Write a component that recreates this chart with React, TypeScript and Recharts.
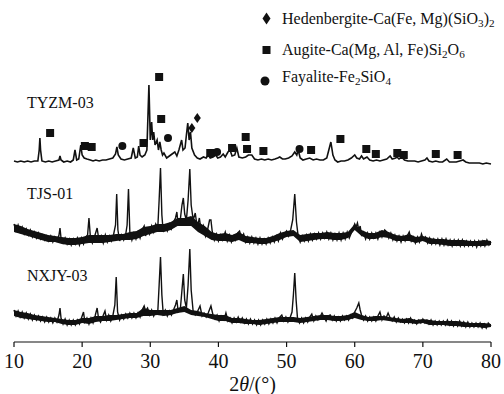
import { Area, ComposedChart, Line, Scatter, XAxis, YAxis } from 'recharts'

const SERIF = "'Liberation Serif', 'Times New Roman', serif"

const TWO_THETA_TICKS = [10, 20, 30, 40, 50, 60, 70, 80]

// [2θ, relative intensity]
const TYZM_03: [number, number][] = [
  [10.0, 5], [10.5, 4], [11.0, 5], [11.5, 4], [12.0, 5], [12.5, 4], [13.0, 5], [13.5, 5],
  [13.7, 16], [13.8, 28], [13.9, 16], [14.1, 5], [14.6, 4], [15.1, 5], [15.6, 4], [16.1, 5],
  [16.6, 6], [16.75, 10], [16.9, 6], [17.3, 4], [17.8, 5], [18.3, 4], [18.7, 6], [18.95, 16],
  [19.2, 6], [19.5, 7], [19.8, 21], [20.0, 11], [20.3, 8], [20.7, 7], [21.2, 6], [21.6, 5],
  [22.0, 6], [22.5, 5], [23.0, 6], [23.5, 6], [24.0, 7], [24.5, 8], [24.9, 12], [25.1, 19],
  [25.3, 11], [25.7, 7], [26.2, 6], [26.7, 7], [27.2, 8], [27.5, 18], [27.8, 8], [28.1, 9],
  [28.3, 20], [28.5, 11], [28.8, 9], [29.2, 11], [29.5, 16], [29.8, 81], [30.0, 26], [30.2, 44],
  [30.35, 26], [30.5, 34], [30.7, 21], [31.0, 26], [31.2, 16], [31.4, 24], [31.6, 16], [31.8, 11],
  [32.0, 13], [32.4, 8], [32.8, 10], [33.2, 12], [33.6, 14], [33.9, 10], [34.2, 16], [34.6, 26],
  [34.8, 16], [35.1, 18], [35.3, 31], [35.5, 43], [35.7, 26], [35.9, 34], [36.1, 18], [36.5, 11],
  [36.9, 8], [37.3, 7], [37.8, 9], [38.2, 8], [38.5, 11], [38.8, 8], [39.2, 9], [39.6, 11],
  [39.9, 8], [40.3, 9], [40.7, 12], [41.0, 9], [41.4, 14], [41.7, 16], [42.0, 10], [42.4, 11],
  [42.7, 18], [43.0, 9], [43.5, 8], [44.0, 9], [44.4, 11], [44.9, 11], [45.3, 7], [45.8, 6],
  [46.3, 7], [46.8, 6], [47.3, 7], [47.8, 6], [48.3, 7], [48.7, 8], [49.0, 9], [49.4, 7],
  [49.8, 7], [50.3, 8], [50.8, 10], [51.2, 14], [51.5, 11], [51.7, 16], [52.0, 8], [52.4, 6],
  [52.9, 7], [53.4, 8], [53.9, 6], [54.4, 7], [54.9, 6], [55.4, 6], [55.9, 8], [56.2, 16],
  [56.5, 24], [56.8, 11], [57.1, 6], [57.5, 4], [58.0, 5], [58.5, 5], [59.0, 6], [59.5, 8],
  [60.0, 11], [60.3, 8], [60.7, 7], [61.0, 10], [61.3, 7], [61.8, 9], [62.2, 6], [62.7, 5],
  [63.2, 6], [63.7, 5], [64.2, 6], [64.7, 7], [65.2, 10], [65.5, 7], [66.0, 8], [66.2, 9],
  [66.5, 7], [66.9, 9], [67.3, 6], [67.8, 5], [68.3, 5], [68.8, 5], [69.3, 4], [69.8, 5],
  [70.3, 6], [70.6, 8], [70.9, 5], [71.4, 4], [71.9, 5], [72.4, 4], [72.9, 4], [73.5, 7],
  [73.9, 4], [74.4, 4], [74.9, 4], [75.4, 5], [75.9, 6], [76.3, 4], [76.8, 3], [77.3, 3],
  [77.8, 3], [78.3, 3], [78.8, 2], [79.3, 3], [80.0, 2],
]

const TJS_01: [number, number][] = [
  [10.0, 24], [10.3, 17], [10.6, 23], [10.9, 16], [11.2, 21], [11.5, 14], [11.8, 19], [12.1, 13],
  [12.4, 18], [12.7, 11], [13.0, 16], [13.3, 10], [13.6, 15], [13.9, 9], [14.2, 13], [14.5, 8],
  [14.8, 12], [15.1, 7], [15.4, 12], [15.7, 6], [16.0, 11], [16.3, 7], [16.6, 13], [16.75, 20],
  [16.9, 10], [17.2, 5], [17.5, 10], [17.8, 4], [18.1, 9], [18.4, 3], [18.7, 9], [19.0, 4],
  [19.3, 10], [19.6, 3], [19.9, 10], [20.2, 4], [20.5, 11], [20.8, 13], [21.0, 30], [21.2, 12],
  [21.5, 5], [21.8, 11], [22.2, 20], [22.5, 6], [22.8, 12], [23.1, 5], [23.4, 13], [23.7, 6],
  [24.0, 12], [24.3, 7], [24.6, 13], [24.9, 23], [25.07, 54], [25.25, 18], [25.5, 7], [25.8, 13],
  [26.1, 8], [26.4, 14], [26.6, 23], [26.8, 59], [27.0, 16], [27.3, 8], [27.6, 15], [27.9, 9],
  [28.2, 16], [28.5, 10], [28.8, 18], [29.1, 22], [29.3, 12], [29.6, 19], [29.9, 14], [30.2, 22],
  [30.5, 16], [30.8, 24], [31.1, 20], [31.3, 48], [31.5, 80], [31.7, 33], [31.9, 16], [32.2, 22],
  [32.5, 17], [32.8, 24], [33.1, 19], [33.4, 26], [33.7, 30], [33.9, 36], [34.1, 23], [34.4, 28],
  [34.65, 43], [34.85, 50], [35.05, 34], [35.3, 28], [35.55, 48], [35.8, 79], [36.0, 43], [36.3, 28],
  [36.6, 35], [36.9, 20], [37.2, 30], [37.5, 16], [37.8, 22], [38.1, 12], [38.4, 18], [38.7, 28],
  [38.9, 28], [39.1, 16], [39.4, 8], [39.7, 14], [40.0, 7], [40.3, 13], [40.6, 8], [41.0, 16],
  [41.3, 7], [41.6, 13], [41.9, 6], [42.2, 12], [42.5, 8], [42.8, 15], [43.1, 17], [43.4, 10],
  [43.7, 14], [44.0, 6], [44.3, 11], [44.6, 5], [44.9, 11], [45.2, 5], [45.5, 10], [45.8, 4],
  [46.1, 10], [46.4, 4], [46.7, 9], [47.0, 4], [47.3, 10], [47.6, 5], [47.9, 11], [48.2, 6],
  [48.5, 12], [48.8, 7], [49.1, 15], [49.4, 9], [49.7, 14], [50.0, 17], [50.3, 12], [50.6, 18],
  [50.9, 28], [51.2, 54], [51.45, 26], [51.7, 12], [52.0, 6], [52.3, 12], [52.6, 7], [52.9, 13],
  [53.2, 7], [53.5, 14], [53.8, 8], [54.1, 14], [54.4, 9], [54.7, 15], [55.0, 9], [55.3, 15],
  [55.6, 10], [55.9, 16], [56.2, 9], [56.5, 15], [56.8, 8], [57.1, 14], [57.4, 8], [57.7, 15],
  [58.0, 8], [58.3, 15], [58.6, 9], [58.9, 16], [59.2, 10], [59.5, 15], [59.8, 20], [60.0, 24],
  [60.2, 21], [60.4, 25], [60.6, 18], [60.8, 22], [61.0, 13], [61.3, 16], [61.6, 9], [61.9, 15],
  [62.2, 9], [62.5, 15], [62.8, 10], [63.1, 15], [63.4, 9], [63.7, 16], [64.0, 11], [64.4, 18],
  [64.7, 16], [65.0, 10], [65.3, 15], [65.6, 8], [65.9, 13], [66.2, 7], [66.5, 12], [66.8, 6],
  [67.1, 12], [67.4, 7], [67.7, 12], [68.0, 16], [68.3, 7], [68.6, 11], [68.9, 5], [69.2, 11],
  [69.5, 6], [69.8, 14], [70.1, 8], [70.4, 11], [70.7, 5], [71.0, 10], [71.3, 4], [71.6, 9],
  [71.9, 4], [72.2, 9], [72.5, 3], [72.8, 9], [73.1, 3], [73.4, 9], [73.7, 3], [74.0, 8],
  [74.3, 2], [74.6, 8], [74.9, 3], [75.2, 8], [75.5, 2], [75.8, 8], [76.1, 2], [76.4, 7],
  [76.7, 2], [77.0, 7], [77.3, 2], [77.6, 7], [77.9, 1], [78.2, 7], [78.5, 2], [78.8, 7],
  [79.1, 2], [79.4, 8], [79.7, 3], [80.0, 6],
]

const NXJY_03: [number, number][] = [
  [10.0, 20], [10.3, 14], [10.6, 19], [10.9, 13], [11.2, 18], [11.5, 12], [11.8, 17], [12.1, 11],
  [12.4, 16], [12.7, 10], [13.0, 15], [13.3, 10], [13.6, 14], [13.9, 9], [14.2, 13], [14.5, 8],
  [14.8, 13], [15.1, 8], [15.4, 12], [15.7, 7], [16.0, 12], [16.3, 8], [16.6, 15], [16.75, 22],
  [16.9, 12], [17.2, 6], [17.5, 11], [17.8, 5], [18.1, 10], [18.4, 5], [18.7, 10], [19.0, 5],
  [19.3, 10], [19.6, 6], [19.9, 12], [20.2, 18], [20.4, 8], [20.7, 12], [21.0, 6], [21.3, 12],
  [21.6, 7], [21.9, 14], [22.2, 22], [22.4, 12], [22.7, 8], [23.0, 13], [23.35, 19], [23.6, 10],
  [23.9, 15], [24.2, 9], [24.5, 14], [24.8, 25], [25.0, 53], [25.2, 18], [25.5, 10], [25.8, 15],
  [26.1, 11], [26.4, 16], [26.7, 12], [27.0, 17], [27.3, 12], [27.6, 17], [27.9, 12], [28.2, 17],
  [28.5, 13], [28.8, 20], [29.1, 24], [29.3, 19], [29.6, 22], [29.9, 15], [30.2, 20], [30.5, 14],
  [30.8, 19], [31.1, 18], [31.3, 45], [31.5, 73], [31.7, 35], [31.9, 16], [32.2, 20], [32.5, 14],
  [32.8, 19], [33.1, 15], [33.4, 20], [33.7, 25], [33.9, 30], [34.1, 18], [34.4, 20], [34.65, 40],
  [34.85, 56], [35.05, 30], [35.3, 22], [35.55, 45], [35.8, 81], [36.0, 40], [36.3, 18], [36.6, 15],
  [36.9, 18], [37.3, 24], [37.6, 14], [37.9, 17], [38.2, 13], [38.5, 17], [38.9, 24], [39.2, 15],
  [39.5, 11], [39.8, 15], [40.1, 9], [40.4, 14], [40.8, 10], [41.1, 17], [41.4, 9], [41.7, 12],
  [42.0, 7], [42.3, 12], [42.6, 8], [42.9, 13], [43.2, 8], [43.5, 12], [43.8, 7], [44.1, 11],
  [44.4, 6], [44.7, 11], [45.0, 6], [45.3, 10], [45.6, 5], [45.9, 10], [46.2, 5], [46.5, 10],
  [46.8, 6], [47.1, 11], [47.4, 6], [47.7, 11], [48.0, 7], [48.3, 12], [48.6, 7], [48.9, 12],
  [49.3, 15], [49.6, 9], [49.9, 13], [50.2, 8], [50.5, 12], [50.8, 18], [51.0, 35], [51.2, 57],
  [51.4, 30], [51.6, 12], [51.9, 7], [52.2, 12], [52.5, 7], [52.8, 12], [53.1, 8], [53.4, 13],
  [53.7, 16], [54.0, 9], [54.3, 14], [54.6, 10], [54.9, 13], [55.2, 17], [55.5, 13], [55.8, 9],
  [56.1, 14], [56.4, 15], [56.7, 10], [57.0, 14], [57.3, 9], [57.6, 13], [57.9, 9], [58.2, 14],
  [58.5, 10], [58.8, 14], [59.1, 10], [59.4, 15], [59.7, 12], [60.0, 18], [60.3, 22], [60.6, 27],
  [60.8, 20], [61.0, 15], [61.3, 10], [61.6, 14], [61.9, 9], [62.2, 13], [62.5, 9], [62.8, 13],
  [63.1, 9], [63.4, 14], [63.7, 18], [64.0, 10], [64.3, 14], [64.6, 12], [64.9, 17], [65.2, 12],
  [65.5, 9], [65.8, 13], [66.1, 8], [66.4, 12], [66.7, 8], [67.0, 11], [67.3, 7], [67.6, 11],
  [67.9, 7], [68.2, 12], [68.5, 7], [68.8, 10], [69.1, 6], [69.4, 10], [69.7, 7], [70.0, 11],
  [70.3, 7], [70.6, 10], [70.9, 6], [71.2, 10], [71.5, 5], [71.8, 9], [72.1, 5], [72.4, 9],
  [72.7, 5], [73.0, 9], [73.3, 5], [73.6, 10], [73.9, 5], [74.2, 9], [74.5, 4], [74.8, 8],
  [75.1, 4], [75.4, 9], [75.7, 4], [76.0, 8], [76.3, 3], [76.6, 8], [76.9, 3], [77.2, 7],
  [77.5, 3], [77.8, 7], [78.1, 3], [78.4, 7], [78.7, 2], [79.0, 6], [79.3, 2], [79.6, 7],
  [80.0, 4],
]

// noise band of the two rough scans: [2θ, low, high]
const TJS_01_NOISE: [number, number, number][] = [
  [10, 16, 24], [11, 14, 22], [12, 12, 19], [13, 10, 17], [14, 8, 15], [15, 6, 13], [16, 6, 12],
  [17, 4, 11], [18, 3, 10], [19, 3, 10], [20, 4, 11], [21, 5, 13], [22, 5, 13], [23, 5, 13],
  [24, 6, 13], [25, 7, 14], [26, 8, 14], [27, 8, 16], [28, 9, 17], [29, 12, 21], [30, 14, 22],
  [31, 16, 24], [32, 16, 24], [33, 18, 26], [34, 22, 30], [35, 22, 30], [36, 22, 32], [37, 16, 26],
  [38, 12, 22], [39, 8, 16], [40, 7, 14], [41, 7, 15], [42, 6, 13], [43, 8, 16], [44, 5, 12],
  [45, 5, 11], [46, 4, 10], [47, 4, 10], [48, 6, 12], [49, 8, 15], [50, 11, 17], [51, 12, 18],
  [52, 6, 13], [53, 7, 14], [54, 8, 15], [55, 9, 15], [56, 9, 16], [57, 8, 15], [58, 8, 15],
  [59, 10, 16], [60, 18, 24], [61, 12, 18], [62, 9, 15], [63, 9, 15], [64, 11, 18], [65, 10, 16],
  [66, 7, 13], [67, 7, 12], [68, 7, 14], [69, 5, 11], [70, 7, 12], [71, 4, 10], [72, 4, 9],
  [73, 3, 9], [74, 2, 8], [75, 2, 8], [76, 2, 8], [77, 2, 7], [78, 2, 7], [79, 2, 8], [80, 3, 7],
]

const NXJY_03_NOISE: [number, number, number][] = [
  [10, 14, 20], [11, 12, 18], [12, 11, 17], [13, 10, 15], [14, 9, 14], [15, 8, 13], [16, 8, 12],
  [17, 6, 11], [18, 5, 10], [19, 5, 10], [20, 7, 12], [21, 6, 12], [22, 8, 14], [23, 9, 14],
  [24, 9, 15], [25, 10, 15], [26, 11, 16], [27, 12, 17], [28, 12, 17], [29, 14, 22], [30, 14, 20],
  [31, 15, 20], [32, 14, 20], [33, 15, 20], [34, 17, 22], [35, 18, 24], [36, 15, 20], [37, 14, 19],
  [38, 13, 17], [39, 11, 16], [40, 9, 15], [41, 9, 15], [42, 7, 12], [43, 7, 12], [44, 6, 11],
  [45, 6, 10], [46, 5, 10], [47, 6, 11], [48, 7, 12], [49, 8, 13], [50, 8, 13], [51, 8, 13],
  [52, 7, 12], [53, 8, 13], [54, 9, 14], [55, 10, 15], [56, 10, 15], [57, 9, 14], [58, 9, 14],
  [59, 10, 15], [60, 12, 18], [61, 10, 15], [62, 9, 13], [63, 9, 14], [64, 10, 14], [65, 9, 13],
  [66, 8, 12], [67, 7, 11], [68, 7, 12], [69, 6, 10], [70, 7, 11], [71, 5, 10], [72, 5, 9],
  [73, 5, 9], [74, 4, 9], [75, 4, 9], [76, 3, 8], [77, 3, 7], [78, 3, 7], [79, 2, 7], [80, 3, 6],
]

// phase markers over TYZM-03: [2θ, height]
const AUGITE_PEAKS: [number, number][] = [
  [15.3, 33], [20.4, 20], [21.4, 19], [29.0, 23], [31.3, 89], [31.6, 47], [38.8, 13],
  [42.0, 18], [44.0, 29], [44.2, 17], [46.6, 15], [53.6, 16], [57.9, 27], [61.7, 17],
  [63.1, 12], [66.25, 13], [67.2, 11], [71.9, 12], [75.1, 11],
]
const HEDENBERGITE_PEAKS: [number, number][] = [[36.1, 38], [36.9, 48]]
const FAYALITE_PEAKS: [number, number][] = [[25.9, 20], [32.6, 28], [39.8, 14], [51.9, 17]]

const OFFSETS = { tyzm: 176, tjs: 94, nxjy: 12 }
const INK = '#111'

const toPoints = (pts: [number, number][], off: number) =>
  pts.map(([x, i]) => ({ x, y: i + off }))

const toBand = (pts: [number, number, number][], off: number) =>
  pts.map(([x, lo, hi]) => ({ x, band: [lo + off, hi + off] }))

const Square = (p: any) => <rect x={p.cx - 4} y={p.cy - 4} width={8} height={8} fill={INK} />
const Dot = (p: any) => <circle cx={p.cx} cy={p.cy} r={4} fill={INK} />
const Diamond = (p: any) => (
  <polygon
    points={`${p.cx},${p.cy - 5} ${p.cx + 3.5},${p.cy} ${p.cx},${p.cy + 5} ${p.cx - 3.5},${p.cy}`}
    fill={INK}
  />
)

const Tick = ({ x, y, payload }: any) => (
  <text x={x} y={y} dy="0.71em" textAnchor="middle" fill={INK} fontSize={20} style={{ fontFamily: SERIF }}>
    {payload.value}
  </text>
)

const sub = (t: string) => (
  <sub style={{ fontSize: '0.7em', verticalAlign: '-0.25em', lineHeight: 0 }}>{t}</sub>
)

const textStyle = (left: number, top: number) => ({
  position: 'absolute' as const,
  left,
  top,
  fontFamily: SERIF,
  fontSize: 16,
  lineHeight: '16px',
  color: INK,
  whiteSpace: 'nowrap' as const,
})

export default function App() {
  return (
    <div style={{ position: 'absolute', left: 0, top: 0, width: 504, height: 394, background: '#fff' }}>
      <ComposedChart width={504} height={394} margin={{ top: 2, right: 13, bottom: 22, left: 14 }}>
        <XAxis
          type="number"
          dataKey="x"
          domain={[10, 80]}
          ticks={TWO_THETA_TICKS}
          height={30}
          axisLine={{ stroke: INK, strokeWidth: 1.2 }}
          tickLine={{ stroke: INK, strokeWidth: 1.2 }}
          tickSize={5}
          tickMargin={7}
          tick={<Tick />}
          label={{
            content: ({ viewBox }: any) => (
              <text
                x={viewBox.x + viewBox.width / 2}
                y={viewBox.y + 49}
                textAnchor="middle"
                fill={INK}
                fontSize={20}
                style={{ fontFamily: SERIF }}
              >
                2<tspan fontStyle="italic">θ</tspan>/(°)
              </text>
            ),
          }}
        />
        <YAxis type="number" dataKey="y" domain={[0, 340]} hide />
        <Area data={toBand(TJS_01_NOISE, OFFSETS.tjs)} dataKey="band" type="linear" stroke="none" fill={INK} fillOpacity={1} isAnimationActive={false} />
        <Area data={toBand(NXJY_03_NOISE, OFFSETS.nxjy)} dataKey="band" type="linear" stroke="none" fill={INK} fillOpacity={1} isAnimationActive={false} />
        <Line data={toPoints(TYZM_03, OFFSETS.tyzm)} dataKey="y" stroke={INK} strokeWidth={1.6} dot={false} isAnimationActive={false} />
        <Line data={toPoints(TJS_01, OFFSETS.tjs)} dataKey="y" stroke={INK} strokeWidth={1.4} dot={false} isAnimationActive={false} />
        <Line data={toPoints(NXJY_03, OFFSETS.nxjy)} dataKey="y" stroke={INK} strokeWidth={1.4} dot={false} isAnimationActive={false} />
        <Scatter data={toPoints(AUGITE_PEAKS, OFFSETS.tyzm)} dataKey="y" shape={Square} isAnimationActive={false} />
        <Scatter data={toPoints(HEDENBERGITE_PEAKS, OFFSETS.tyzm)} dataKey="y" shape={Diamond} isAnimationActive={false} />
        <Scatter data={toPoints(FAYALITE_PEAKS, OFFSETS.tyzm)} dataKey="y" shape={Dot} isAnimationActive={false} />
      </ComposedChart>

      <svg style={{ position: 'absolute', left: 258, top: 8 }} width={18} height={84}>
        <polygon points="8.5,4.5 12.5,10.5 8.5,16.5 4.5,10.5" fill={INK} />
        <rect x={4.5} y={38} width={8} height={8} fill={INK} />
        <circle cx={7} cy={73} r={4.5} fill={INK} />
      </svg>
      <div style={textStyle(282, 11)}>
        Hedenbergite-Ca(Fe, Mg)(SiO{sub('3')}){sub('2')}
      </div>
      <div style={textStyle(282, 42)}>
        Augite-Ca(Mg, Al, Fe)Si{sub('2')}O{sub('6')}
      </div>
      <div style={textStyle(282, 69)}>
        Fayalite-Fe{sub('2')}SiO{sub('4')}
      </div>

      <div style={textStyle(27, 95)}>TYZM-03</div>
      <div style={textStyle(27, 186)}>TJS-01</div>
      <div style={textStyle(27, 268)}>NXJY-03</div>
    </div>
  )
}
